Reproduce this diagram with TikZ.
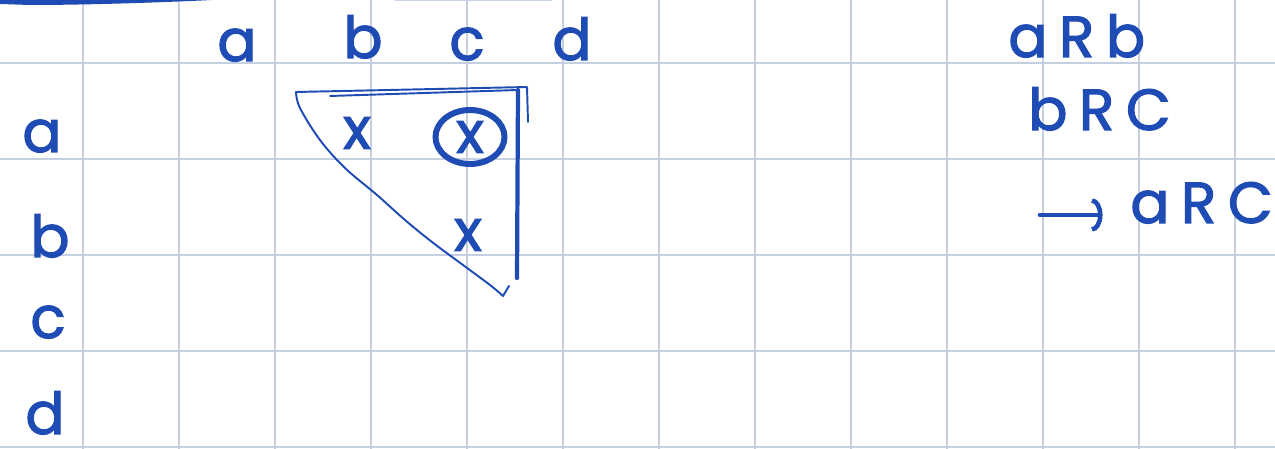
\documentclass[tikz,border=0pt]{standalone}
\usepackage{fontspec}
\newfontfamily\handfont[FakeBold=2]{Poppins}
\newfontfamily\spacedfont[LetterSpace=20,FakeBold=2]{Poppins}
\usetikzlibrary{positioning,calc,shapes.geometric,arrows.meta}
\definecolor{ink}{HTML}{1E4BB4}
\definecolor{gridline}{HTML}{C4CFDF}

\begin{document}
\begin{tikzpicture}[x=0.02cm, y=-0.02cm,
  hand/.style={text=ink, font=\handfont\fontsize{33}{33}\selectfont, inner sep=0pt},
  spaced/.style={text=ink, font=\spacedfont\fontsize{33}{33}\selectfont, inner sep=0pt},
  pen/.style={draw=ink, line width=1.1pt, line cap=round, line join=round}]
\useasboundingbox (0,0) rectangle (1275,449);
\fill[white] (0,0) rectangle (1275,449);

% Grid paper
\foreach \gx in {83,179,...,1235}
  \draw[gridline, line width=1.1pt] (\gx,0) -- (\gx,449);
\foreach \gy in {63,159,...,447}
  \draw[gridline, line width=1.1pt] (0,\gy) -- (1275,\gy);

% Pen strokes at the top edge
\fill[ink] (0,0) -- (212,0) .. controls (150,3) and (80,5) .. (30,5) -- (0,4) -- cycle;
\draw[ink!25, line width=1pt] (395,0.6) -- (552,0.6);

% Column and row headers
\foreach \name/\px/\py in {a/237/61, b/363/58, c/467/60, d/572/60}
  \node[hand, anchor=base] (col-\name) at (\px,\py) {\name};
\foreach \name/\px/\py in {a/42/152, b/50/257, c/48/338, d/45/434}
  \node[hand, anchor=base] (row-\name) at (\px,\py) {\name};

% Marked pairs
\node[hand] (pair-ab) at (357,133) {x};
\node[hand, draw=ink, ellipse, line width=3.4pt, minimum width=1.38cm, minimum height=1.08cm] (pair-ac) at (470,137) {x};
\node[hand] (pair-bc) at (468,235) {x};

% Upper triangle
\draw[pen] (296,92) -- (527,87) -- (528,122);
\draw[pen] (330,96) -- (518,90);
\draw[pen, line width=2.4pt] (518,90) -- (517,278);
\draw[pen] plot[smooth, tension=0.6] coordinates {(296,92) (300,108) (320,140) (345,168) (377,195) (405,220) (432,242) (463,265) (490,285) (503,296)} -- (509,286);

% Transitivity
\node[spaced, anchor=base west] (rel-ab) at (1008,57) {aRb};
\node[spaced, anchor=base west] (rel-bc) at (1028,130) {bRC};
\coordinate (arrowstart) at (1040,215);
\node[spaced, anchor=base west] (rel-ac) at (1130,223) {aRC};
\draw[pen, line width=2.6pt, -{Arc Barb[length=6pt, width=19pt]}, shorten >=0.55cm] (arrowstart) -- (arrowstart -| rel-ac.west);
\end{tikzpicture}
\end{document}
